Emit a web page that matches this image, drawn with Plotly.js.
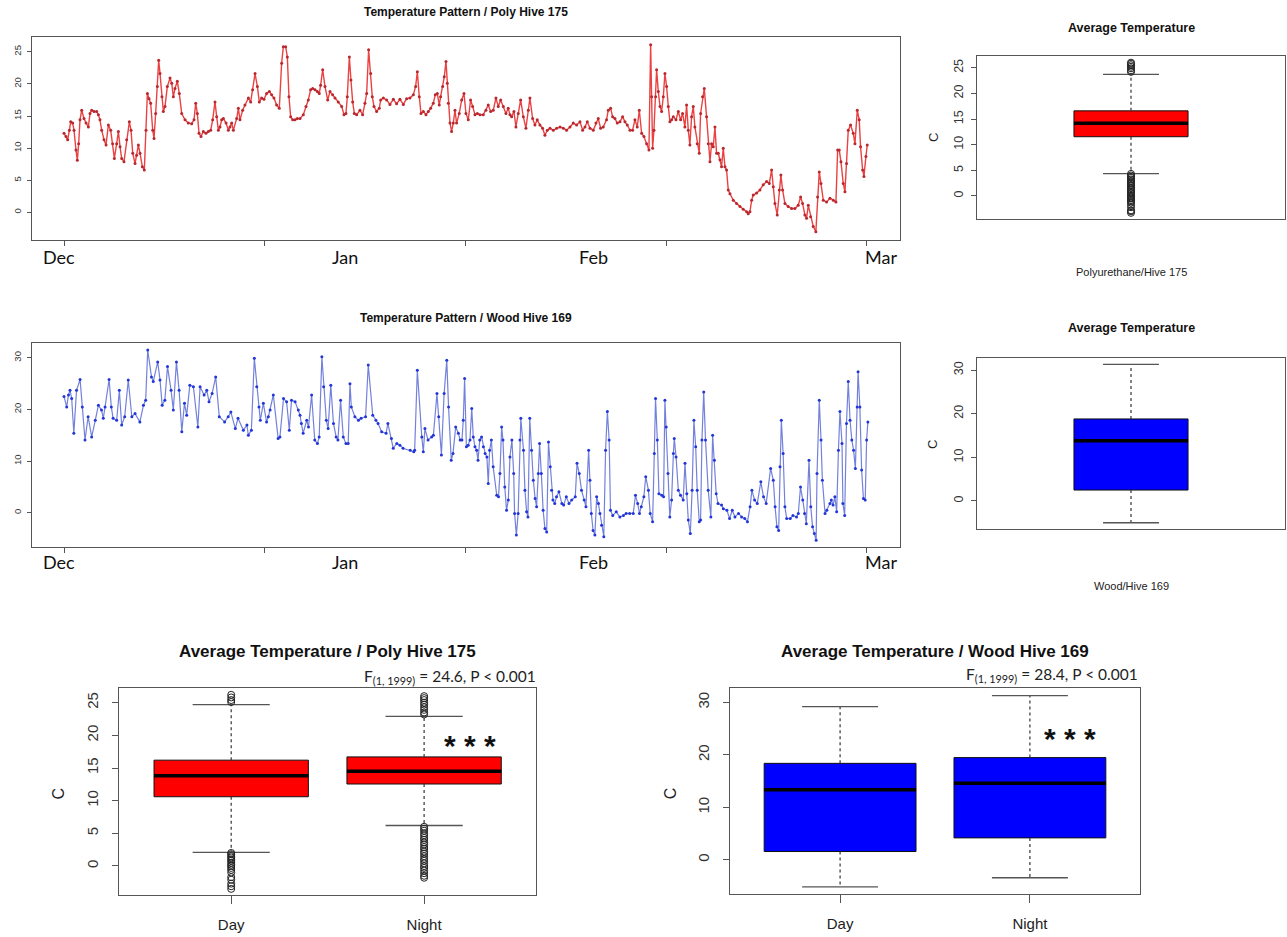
<!DOCTYPE html>
<html><head><meta charset="utf-8">
<script src="https://cdn.plot.ly/plotly-3.0.1.min.js"></script>
<style>html,body{margin:0;padding:0;background:#fff}#chart{width:1287px;height:937px}</style>
</head><body><div id="chart"></div>
<script>
// ---------- time series: days since 1 Dec, temperature (C) ----------
const polyDays = [0,0.22,0.41,0.60,0.75,0.97,1.12,1.34,1.49,1.64,1.79,1.98,2.24,2.47,2.73,2.91,3.10,3.36,3.66,3.85,4.03,4.22,4.48,4.71,4.97,5.23,5.45,5.64,5.90,6.09,6.28,6.46,6.72,7.02,7.32,7.51,7.70,7.96,8.14,8.33,8.52,8.78,9.00,9.19,9.34,9.53,9.71,9.94,10.09,10.27,10.46,10.61,10.76,10.98,11.13,11.32,11.58,11.88,12.07,12.25,12.44,12.70,12.92,13.19,13.56,13.93,14.31,14.57,14.76,14.94,15.13,15.35,15.61,15.91,16.17,16.44,16.66,16.92,17.11,17.30,17.48,17.67,17.86,18.16,18.42,18.60,18.79,18.98,19.35,19.54,19.72,20.02,20.28,20.66,20.92,21.14,21.41,21.67,21.89,22.15,22.41,22.71,23.01,23.27,23.53,23.83,24.13,24.39,24.58,24.84,25.03,25.21,25.40,25.63,25.89,26.15,26.45,26.82,27.12,27.38,27.64,27.87,28.13,28.39,28.61,28.76,28.99,29.25,29.55,29.81,30.11,30.37,30.74,31.12,31.38,31.60,31.75,31.98,32.16,32.35,32.54,32.80,33.17,33.47,33.73,33.92,34.14,34.37,34.55,34.74,35.04,35.34,35.49,35.79,36.16,36.53,36.91,37.28,37.65,38.03,38.40,38.77,39.15,39.41,39.60,39.82,40.01,40.27,40.57,40.83,41.09,41.39,41.61,41.84,42.06,42.21,42.44,42.62,42.81,42.96,43.07,43.26,43.44,43.63,43.82,44.00,44.30,44.57,44.83,45.05,45.31,45.57,45.80,46.06,46.32,46.62,46.99,47.29,47.55,47.82,48.11,48.41,48.67,48.94,49.24,49.53,49.79,49.98,50.17,50.43,50.65,50.91,51.18,51.48,51.77,52.04,52.22,52.52,52.78,53.04,53.34,53.64,53.90,54.17,54.47,54.84,55.21,55.59,55.96,56.33,56.71,57.08,57.45,57.83,58.13,58.39,58.65,58.95,59.32,59.62,59.88,60.14,60.44,60.81,61.00,61.26,61.49,61.75,62.01,62.31,62.61,62.87,63.13,63.43,63.73,63.99,64.25,64.48,64.74,65.00,65.30,65.56,65.75,65.86,65.97,66.12,66.31,66.42,66.61,66.80,66.98,67.17,67.35,67.54,67.73,67.91,68.10,68.29,68.59,68.85,69.11,69.33,69.59,69.78,69.97,70.15,70.34,70.53,70.71,70.97,71.20,71.35,71.57,71.76,72.02,72.21,72.40,72.58,72.77,72.96,73.14,73.33,73.52,73.70,73.89,74.08,74.26,74.45,74.64,75.01,75.38,75.76,76.13,76.51,76.69,76.88,77.07,77.25,77.63,78.00,78.37,78.75,79.05,79.31,79.50,79.68,79.94,80.17,80.35,80.54,80.80,81.17,81.55,81.92,82.29,82.56,82.78,83.04,83.23,83.42,83.68,83.98,84.27,84.46,84.65,84.84,85.10,85.47,85.85,86.22,86.52,86.71,86.89,87.08,87.34,87.53,87.71,87.90,88.16,88.46,88.65,88.91,89.13,89.28,89.51,89.66,89.88,90.03];
const polyTemp = [12.3,11.8,11.3,12.8,14.1,13.9,12.8,9.7,8.1,10.7,14.4,15.9,14.6,13.9,13.3,15.4,15.9,15.7,15.7,15.2,14.4,12.8,11.3,10.5,13.6,12.8,10.7,8.4,10.7,12.6,10.2,8.4,7.9,11.3,14.1,12.8,9.2,7.6,8.9,10.5,9.2,7.1,6.6,12.8,18.5,17.7,17.0,12.8,11.5,15.4,19.6,23.7,21.6,18.0,15.7,16.5,19.6,20.9,20.1,18.0,19.3,20.4,18.5,15.4,14.4,13.9,13.8,14.4,17.0,15.4,12.3,11.8,12.6,12.3,12.6,12.8,14.4,17.2,14.9,12.8,13.3,14.4,14.6,13.9,12.8,13.3,13.9,12.8,14.6,16.2,14.4,15.9,16.7,17.8,17.2,19.1,21.6,19.6,17.2,17.8,17.6,18.5,18.8,18.3,17.8,16.7,16.2,23.2,25.8,25.8,24.2,18.0,14.9,14.4,14.4,14.6,14.6,15.2,16.5,17.5,19.1,19.3,19.1,18.8,18.5,19.8,22.2,19.6,17.5,18.8,18.3,17.8,17.2,16.5,15.2,15.4,18.0,24.2,20.6,17.2,15.4,15.2,15.9,15.2,17.0,18.5,25.3,21.6,18.0,16.5,15.7,16.2,17.5,17.8,17.5,16.8,17.6,16.9,17.6,16.8,17.7,17.8,18.3,19.6,21.9,18.0,15.4,15.7,15.2,15.7,16.2,17.0,18.3,18.5,16.7,18.0,19.6,21.1,23.5,20.1,17.0,13.9,12.6,13.9,15.9,13.9,15.4,17.5,18.5,15.4,14.4,17.5,16.5,15.2,15.4,15.2,15.2,15.9,16.7,15.7,15.9,17.8,16.5,17.5,16.5,15.4,16.2,15.2,14.9,15.7,13.3,15.4,17.5,14.9,13.1,15.9,17.8,14.6,13.6,14.4,13.6,13.1,12.0,12.8,13.1,12.8,13.1,13.3,13.1,12.8,13.3,13.9,13.6,14.1,12.8,13.3,14.1,13.1,12.8,13.9,14.6,13.1,13.3,14.4,15.9,16.2,14.9,14.6,13.9,14.1,14.9,14.1,13.6,12.8,12.8,14.4,13.3,15.9,12.3,11.8,10.7,9.7,26.1,18.0,10.0,12.8,18.0,22.2,18.8,16.5,15.7,18.0,21.6,19.6,16.5,14.1,14.4,14.9,14.4,15.7,14.4,15.4,13.3,16.7,12.8,10.5,14.9,16.5,13.3,10.7,9.2,15.4,18.0,19.3,14.9,10.7,7.9,10.7,10.2,13.3,9.2,9.2,8.2,7.1,10.0,7.1,6.6,3.5,2.9,1.9,1.4,0.9,0.5,0.1,-0.2,0.1,1.9,2.7,3.0,3.5,4.3,4.8,4.5,6.6,4.0,1.4,-0.4,3.5,5.8,3.5,1.4,0.9,0.6,0.6,1.1,2.4,1.4,-0.4,-0.9,1.1,-0.7,-2.2,-3.0,2.4,6.3,4.5,1.9,1.6,2.2,1.9,1.6,9.7,9.7,7.9,4.5,3.2,7.6,12.8,13.6,12.3,10.7,15.9,14.4,10.2,6.6,5.6,8.7,10.5];

const woodDays = [0,0.3,0.5,0.67,0.86,1.1,1.4,1.8,2.05,2.35,2.7,3.1,3.5,3.85,4.2,4.4,4.6,5.05,5.3,5.5,5.9,6.2,6.46,6.8,7.2,7.6,7.96,8.5,8.9,9.15,9.38,9.8,10.0,10.5,10.76,11.0,11.3,11.6,12.0,12.25,12.6,12.9,13.2,13.5,13.75,14.1,14.5,15.0,15.25,15.7,16.0,16.25,16.6,17.0,17.4,18.0,18.4,18.7,19.2,19.5,20.1,20.5,20.66,21.0,21.33,21.6,21.85,22.0,22.34,22.7,22.9,23.1,23.46,24.0,24.2,24.6,24.95,25.25,25.5,25.9,26.26,26.45,26.6,26.8,27.2,27.4,27.75,28.1,28.4,28.6,28.9,29.1,29.4,29.6,29.9,30.2,30.5,30.7,31.0,31.3,31.6,31.85,32.05,32.2,32.6,33.0,33.3,33.8,34.1,34.6,34.96,35.2,35.6,36.1,36.3,36.7,36.9,37.3,37.65,38.0,38.8,39.2,39.3,39.6,40.1,40.27,40.45,40.8,41.2,41.4,41.8,42.0,42.3,42.6,42.9,43.1,43.4,43.6,43.9,44.2,44.4,44.6,44.75,44.9,45.1,45.3,45.5,45.7,45.87,46.06,46.25,46.4,46.6,46.8,47.0,47.2,47.4,47.55,47.7,47.9,48.1,48.5,48.7,48.86,49.05,49.2,49.4,49.6,49.8,49.98,50.2,50.4,50.5,50.7,50.9,51.1,51.2,51.5,51.66,51.85,52.0,52.2,52.4,52.6,52.8,52.97,53.16,53.3,53.5,53.7,53.9,54.1,54.3,54.5,54.65,54.8,55.0,55.2,55.47,55.8,56.0,56.3,56.6,56.9,57.3,57.5,57.75,58.0,58.3,58.5,58.8,58.95,59.1,59.3,59.5,59.7,59.9,60.07,60.25,60.5,60.7,60.9,61.1,61.25,61.5,61.9,62.3,62.7,63.0,63.4,63.8,64.05,64.3,64.5,64.7,64.99,65.2,65.5,65.7,65.97,66.16,66.3,66.5,66.68,67.0,67.2,67.35,67.5,67.7,67.9,68.1,68.3,68.4,68.6,68.85,69.1,69.4,69.6,69.8,69.97,70.2,70.4,70.6,70.8,70.97,71.2,71.35,71.5,71.7,71.9,72.2,72.5,72.7,72.9,73.1,73.3,73.7,73.9,74.3,74.6,74.9,75.2,75.6,75.95,76.3,76.6,76.9,77.1,77.4,77.7,78.1,78.4,78.7,79.2,79.5,79.7,79.9,80.1,80.25,80.4,80.6,80.8,81.0,81.4,81.7,82.1,82.3,82.55,82.8,83.0,83.2,83.5,83.7,83.9,84.1,84.3,84.4,84.65,84.85,85.0,85.3,85.5,85.85,86.0,86.2,86.4,86.6,86.8,86.97,87.2,87.3,87.5,87.7,87.9,88.1,88.3,88.5,88.7,88.9,89.0,89.2,89.4,89.6,89.8,89.96,90.1];
const woodTemp = [22.5,20.5,22.8,23.7,22.1,15.4,23.7,25.8,20.5,14.1,18.6,14.7,17.9,20.8,19.9,18.3,20.5,25.8,20.5,18.3,17.9,23.7,17.0,18.6,25.7,18.6,19.2,17.6,20.8,21.8,31.5,26.3,25.4,29.2,25.7,20.8,21.8,28.3,23.7,19.9,29.2,23.7,15.7,21.2,18.9,24.7,24.4,16.6,24.4,22.8,23.7,21.5,23.1,26.3,18.6,17.6,18.6,19.5,16.3,18.3,16.0,17.0,15.0,16.0,29.9,24.4,20.5,17.9,21.2,17.6,18.6,19.9,22.8,14.4,14.7,22.1,21.5,16.0,21.8,21.5,19.9,18.9,17.3,15.4,17.9,16.6,22.8,14.1,13.4,14.7,30.2,24.4,17.9,16.3,24.7,17.3,14.7,14.1,21.8,14.7,13.4,13.4,25.0,20.5,18.6,17.9,18.3,18.6,28.6,18.9,17.9,17.3,15.7,15.4,17.3,14.4,12.5,13.4,13.1,12.5,12.1,11.8,12.1,27.6,14.7,11.8,16.3,14.1,14.7,15.0,23.1,18.6,11.2,23.1,29.5,20.5,10.2,11.5,16.6,15.4,14.1,14.1,17.9,26.0,12.8,13.1,14.1,20.2,14.7,12.8,12.1,10.2,14.1,14.7,12.8,11.5,10.8,5.7,12.1,14.1,8.9,3.4,3.1,7.6,16.6,14.1,5.0,0.5,2.5,10.8,14.1,7.6,-0.1,-4.3,-0.1,14.1,18.3,12.1,4.4,0.2,-0.8,18.3,12.1,6.3,2.8,1.2,7.6,13.4,7.6,0.5,-3.0,-3.7,13.7,8.9,4.4,2.5,1.8,3.1,4.1,1.8,1.5,3.1,1.8,2.5,3.1,9.6,7.6,4.4,2.5,1.2,12.1,6.3,-0.1,-3.4,-4.3,3.1,1.8,-0.1,-2.4,-4.6,12.1,19.6,14.1,0.5,-0.5,0.2,-0.8,-0.5,-0.1,-0.1,-0.1,3.4,1.8,-0.1,1.2,3.1,7.0,4.4,-0.1,-1.7,11.5,22.1,14.1,3.7,3.4,3.1,21.8,16.6,7.6,-0.8,2.5,11.5,14.4,10.8,4.4,3.4,2.5,9.6,3.7,-1.4,-4.0,4.4,17.9,12.8,4.4,-1.7,-1.4,14.1,23.4,14.1,4.4,-0.8,15.0,10.2,3.7,1.8,1.5,0.8,0.5,-1.1,0.5,-0.8,-0.1,-0.8,-1.1,-1.7,1.2,4.4,2.5,1.8,6.0,3.1,1.8,8.6,6.3,1.2,-2.7,-3.4,8.9,17.9,11.5,1.2,-1.1,-1.1,-0.5,-0.8,-0.1,5.0,2.5,-0.1,-2.1,10.2,1.2,-2.7,-4.0,-5.3,7.6,21.8,14.1,6.3,-0.1,0.5,1.8,2.5,1.5,3.1,0.2,12.1,19.6,13.4,1.8,-0.5,17.3,25.4,17.9,14.1,12.1,8.6,20.5,27.3,20.5,8.3,2.8,2.5,14.1,17.6];

const monthLabels = ['Dec', 'Jan', 'Feb', 'Mar'];

// ---------- box-plot summaries (C) ----------
const singleCat = [1];
const polyAllQ1 = [11.55], polyAllMed = [14.2], polyAllQ3 = [16.6], polyAllLo = [4.35], polyAllHi = [23.7];
const woodAllQ1 = [2.5],   woodAllMed = [13.8], woodAllQ3 = [18.8], woodAllLo = [-5.0], woodAllHi = [31.3];
const polyAllOutHigh = [24.2, 24.5, 24.9, 25.2, 25.5, 25.8, 26.0];
const polyAllOutLow = [4.3, 4.0, 3.7, 3.5, 3.2, 2.9, 2.6, 2.4, 2.1, 1.9, 1.6, 1.3, 1.1, 0.8, 0.5, 0.2, 0.0, -0.3, -0.5, -0.8, -1.0, -1.3, -1.7, -2.2, -2.8, -3.0, -3.3];

const groups = ['Day', 'Night'];
const groupPos = [1, 2];
const polyQ1 = [10.6, 12.55], polyMed = [13.8, 14.5], polyQ3 = [16.2, 16.7], polyLo = [2.1, 6.2], polyHi = [24.7, 22.9];
const woodQ1 = [1.6, 4.2],   woodMed = [13.35, 14.6], woodQ3 = [18.4, 19.5], woodLo = [-5.15, -3.4], woodHi = [29.2, 31.3];
const polyDayOutHigh = [25.1, 25.4, 25.8, 26.2];
const polyDayOutLow = [2.0, 1.8, 1.5, 1.3, 1.0, 0.8, 0.5, 0.2, 0.0, -0.3, -0.6, -1.0, -1.7, -2.1, -2.7, -3.1, -3.5];
const polyNightOutHigh = [23.2, 23.5, 23.9, 24.3, 24.7, 25.0, 25.4, 25.7, 26.0];
const polyNightOutLow = [6.0, 5.7, 5.4, 5.0, 4.7, 4.3, 4.0, 3.6, 3.3, 2.9, 2.6, 2.2, 1.9, 1.5, 1.1, 0.8, 0.4, 0.0, -0.3, -0.7, -1.1, -1.5, -1.8];

const statPoly = 'F<sub>(1, 1999)</sub> = 24.6, P &lt; 0.001';
const statWood = 'F<sub>(1, 1999)</sub> = 28.4, P &lt; 0.001';

// ---------- helpers ----------
const W = 1287, H = 937;
const px = v => v / W;
const py = v => 1 - v / H;
const FONT = 'Liberation Sans, Arial, sans-serif';
const CAL = 'Lato, Open Sans, sans-serif';

const traces = [];
traces.push({type:'scatter', mode:'lines+markers', x: polyDays, y: polyTemp, xaxis:'x', yaxis:'y',
  line:{color:'rgba(232,45,45,0.9)', width:1.4}, marker:{color:'#b8282e', size:3}, hoverinfo:'skip'});
traces.push({type:'scatter', mode:'lines+markers', x: woodDays, y: woodTemp, xaxis:'x2', yaxis:'y2',
  line:{color:'rgba(100,115,215,0.9)', width:1.2}, marker:{color:'#2236d8', size:3}, hoverinfo:'skip'});

function addBoxes(xa, ya, pos, q1, med, q3, lo, hi, bw, cw, fill) {
  const wx = [], wy = [], cx = [], cy = [], mx = [], my = [];
  pos.forEach((c, i) => {
    wx.push(c, c, null, c, c, null); wy.push(q3[i], hi[i], null, q1[i], lo[i], null);
    cx.push(c - cw/2, c + cw/2, null, c - cw/2, c + cw/2, null); cy.push(hi[i], hi[i], null, lo[i], lo[i], null);
    mx.push(c - bw/2, c + bw/2, null); my.push(med[i], med[i], null);
  });
  traces.push({type:'scatter', mode:'lines', x:wx, y:wy, xaxis:xa, yaxis:ya, line:{color:'#333', width:1.2, dash:'3px,3px'}, hoverinfo:'skip'});
  traces.push({type:'scatter', mode:'lines', x:cx, y:cy, xaxis:xa, yaxis:ya, line:{color:'#555', width:1.3}, hoverinfo:'skip'});
  traces.push({type:'box', x:pos, q1:q1, median:med, q3:q3, lowerfence:q1, upperfence:q3, width:bw,
    xaxis:xa, yaxis:ya, fillcolor:fill, line:{color:'#111', width:1}, whiskerwidth:0, boxpoints:false, hoverinfo:'skip'});
  traces.push({type:'scatter', mode:'lines', x:mx, y:my, xaxis:xa, yaxis:ya, line:{color:'#000', width:3.5}, hoverinfo:'skip'});
}
function addOutliers(xa, ya, c, vals) {
  traces.push({type:'scatter', mode:'markers', x: vals.map(() => c), y: vals, xaxis:xa, yaxis:ya,
    marker:{symbol:'circle-open', size:7, color:'#222', line:{width:1}}, hoverinfo:'skip'});
}

addBoxes('x3','y3', singleCat, polyAllQ1, polyAllMed, polyAllQ3, polyAllLo, polyAllHi, 0.40, 0.196, '#ff0000');
addOutliers('x3','y3', singleCat[0], polyAllOutHigh);
addOutliers('x3','y3', singleCat[0], polyAllOutLow);
addBoxes('x4','y4', singleCat, woodAllQ1, woodAllMed, woodAllQ3, woodAllLo, woodAllHi, 0.40, 0.196, '#0000ff');

addBoxes('x5','y5', groupPos, polyQ1, polyMed, polyQ3, polyLo, polyHi, 0.8, 0.4, '#ff0000');
addOutliers('x5','y5', groupPos[0], polyDayOutHigh);
addOutliers('x5','y5', groupPos[0], polyDayOutLow);
addOutliers('x5','y5', groupPos[1], polyNightOutHigh);
addOutliers('x5','y5', groupPos[1], polyNightOutLow);
addBoxes('x6','y6', groupPos, woodQ1, woodMed, woodQ3, woodLo, woodHi, 0.8, 0.4, '#0000ff');

const frame = {showline:true, mirror:true, linecolor:'#555', linewidth:1, zeroline:false, showgrid:false, fixedrange:true};

function tsX(anchor) {
  return Object.assign({}, frame, {domain:[px(32), px(900)], range:[-3.59, 93.7], anchor:anchor,
    tickmode:'array', tickvals:[0, 22.5, 45, 67.5, 90], ticktext:['', '', '', '', ''], ticks:'outside', ticklen:5, tickcolor:'#555'});
}
function yAx(anchor, dom, range, tv, size, standoff, ticklen) {
  return Object.assign({}, frame, {domain:dom, range:range, anchor:anchor, tickmode:'array', tickvals:tv,
    ticks:'outside', ticklen:ticklen, tickcolor:'#555', tickangle:-90, ticklabelstandoff:standoff,
    tickfont:{family:FONT, size:size, color:'#333'}});
}

const layout = {
  width: W, height: H, margin:{l:0, r:0, t:0, b:0}, paper_bgcolor:'#fff', plot_bgcolor:'#fff', showlegend:false,
  xaxis: tsX('y'),
  yaxis: yAx('x', [py(240), py(37)], [-4.3, 27.3], [0,5,10,15,20,25], 9.5, 2, 4),
  xaxis2: tsX('y2'),
  yaxis2: yAx('x2', [py(547), py(343.3)], [-6.6, 32.8], [0,10,20,30], 9.5, 2, 4),
  xaxis3: Object.assign({}, frame, {domain:[px(977), px(1285)], range:[0.46, 1.54], anchor:'y3', showticklabels:false, ticks:''}),
  yaxis3: yAx('x3', [py(219), py(56)], [-4.5, 27.3], [0,5,10,15,20,25], 12.5, 3, 5),
  xaxis4: Object.assign({}, frame, {domain:[px(977), px(1285)], range:[0.46, 1.54], anchor:'y4', showticklabels:false, ticks:''}),
  yaxis4: yAx('x4', [py(529.3), py(358.3)], [-6.5, 32.7], [0,10,20,30], 12.5, 3, 5),
  xaxis5: Object.assign({}, frame, {domain:[px(119.3), px(536)], range:[0.42, 2.58], anchor:'y5', tickmode:'array', tickvals:groupPos, ticktext:groups,
    ticks:'outside', ticklen:8, tickcolor:'#555', ticklabelstandoff:8, tickfont:{family:FONT, size:15, color:'#222'}}),
  yaxis5: yAx('x5', [py(895), py(688.3)], [-4.44, 27.2], [0,5,10,15,20,25], 15, 8, 6),
  xaxis6: Object.assign({}, frame, {domain:[px(730), px(1140)], range:[0.42, 2.58], anchor:'y6', tickmode:'array', tickvals:groupPos, ticktext:groups,
    ticks:'outside', ticklen:8, tickcolor:'#555', ticklabelstandoff:8, tickfont:{family:FONT, size:15, color:'#222'}}),
  yaxis6: yAx('x6', [py(894.3), py(688.3)], [-6.55, 32.7], [0,10,20,30], 15, 8, 6),
  annotations: []
};

const A = layout.annotations;
function note(text, x, y, opts) {
  A.push(Object.assign({text:text, x:x, y:y, xref:'paper', yref:'paper', showarrow:false, xanchor:'center', yanchor:'middle'}, opts || {}));
}
note('<b>Temperature Pattern / Poly Hive 175</b>', px(466), py(12), {font:{family:FONT, size:12, color:'#111'}});
note('<b>Temperature Pattern / Wood Hive 169</b>', px(466), py(318), {font:{family:FONT, size:12, color:'#111'}});
note('<b>Average Temperature</b>', px(1131), py(27.5), {font:{family:FONT, size:12.5, color:'#111'}});
note('<b>Average Temperature</b>', px(1131), py(327.5), {font:{family:FONT, size:12.5, color:'#111'}});
note('Polyurethane/Hive 175', px(1131), py(271.7), {font:{family:FONT, size:11, color:'#222'}});
note('Wood/Hive 169', px(1131), py(585.7), {font:{family:FONT, size:11, color:'#222'}});
note('C', px(933), py(138), {textangle:-90, font:{family:FONT, size:13, color:'#222'}});
note('C', px(933), py(445), {textangle:-90, font:{family:FONT, size:13, color:'#222'}});
note('<b>Average Temperature / Poly Hive 175</b>', px(327.7), py(651.7), {font:{family:FONT, size:17, color:'#111'}});
note('<b>Average Temperature / Wood Hive 169</b>', px(935), py(651.7), {font:{family:FONT, size:17, color:'#111'}});
note(statPoly, px(538.3), py(677.3), {xanchor:'right', font:{family:CAL, size:15.5, color:'#222'}});
note(statWood, px(1140), py(675), {xanchor:'right', font:{family:CAL, size:15.5, color:'#222'}});
note('C', px(58.3), py(793.3), {textangle:-90, font:{family:FONT, size:16, color:'#222'}});
note('C', px(670), py(793.3), {textangle:-90, font:{family:FONT, size:16, color:'#222'}});
A.push({text:'<b>* * *</b>', x:2.24, y:18.4, xref:'x5', yref:'y5', showarrow:false, font:{family:FONT, size:30, color:'#111'}});
A.push({text:'<b>* * *</b>', x:2.21, y:23.2, xref:'x6', yref:'y6', showarrow:false, font:{family:FONT, size:30, color:'#111'}});

const monthPos = [-0.56, 31.5, 59.3, 91.6];
[['x', 256.7], ['x2', 561.7]].forEach(([xr, yy]) => {
  monthLabels.forEach((m, i) => {
    A.push({text:m, x:monthPos[i], y:py(yy), xref:xr, yref:'paper', showarrow:false, yanchor:'middle',
      font:{family:CAL, size:18, color:'#111'}});
  });
});

Plotly.newPlot('chart', traces, layout, {staticPlot:true, displayModeBar:false});
</script></body></html>
